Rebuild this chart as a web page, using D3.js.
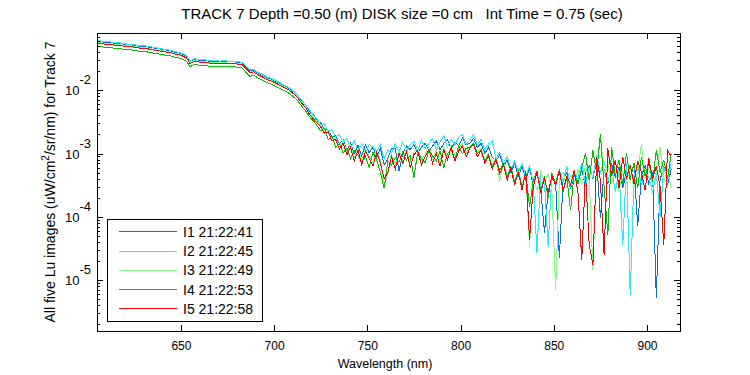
<!DOCTYPE html>
<html>
<head>
<meta charset="utf-8">
<script src="https://cdnjs.cloudflare.com/ajax/libs/d3/7.8.5/d3.min.js"></script>
<style>
  body { margin: 0; background: #fff; }
  text { font-family: "Liberation Sans", Arial, sans-serif; fill: #000; }
</style>
</head>
<body>
<div id="chart"></div>
<script>
// wavelength grid (nm)
const wavelengths = [
  605,607,609,611,613,615,617,619,621,623,625,627,629,631,633,635,637,639,641,643,
  645,647,649,651,653,655,657,659,661,663,665,667,669,671,673,675,677,679,681,683,
  685,687,689,691,693,695,697,699,701,703,705,707,709,711,713,715,717,719,721,723,
  725,727,729,731,733,735,737,739,741,743,745,747,749,751,753,755,757,759,761,763,
  765,767,769,771,773,775,777,779,781,783,785,787,789,791,793,795,797,799,801,803,
  805,807,809,811,813,815,817,819,821,823,825,827,829,831,833,835,837,839,841,843,
  845,847,849,851,853,855,857,859,861,863,865,867,869,871,873,875,877,879,881,883,
  885,887,889,891,893,895,897,899,901,903,905,907,909,911,913
];

// log10(Lu) per image
const i1 = [
  -1.22,-1.23,-1.24,-1.24,-1.25,-1.26,-1.26,-1.27,-1.28,-1.28,-1.29,-1.30,-1.31,-1.31,-1.32,-1.33,-1.34,-1.35,-1.36,-1.37,
  -1.38,-1.40,-1.41,-1.43,-1.46,-1.55,-1.51,-1.52,-1.53,-1.53,-1.54,-1.54,-1.54,-1.55,-1.54,-1.55,-1.55,-1.55,-1.56,-1.57,
  -1.63,-1.69,-1.68,-1.72,-1.75,-1.78,-1.81,-1.83,-1.86,-1.89,-1.92,-1.95,-1.99,-2.04,-2.10,-2.17,-2.25,-2.33,-2.38,-2.48,
  -2.52,-2.62,-2.63,-2.74,-2.72,-2.85,-2.78,-2.95,-2.84,-3.00,-2.87,-3.04,-2.86,-2.99,-2.90,-3.06,-2.92,-3.18,-3.08,-2.92,
  -2.92,-3.28,-3.00,-2.88,-2.94,-2.86,-3.00,-2.90,-2.84,-2.96,-2.88,-2.80,-2.94,-2.84,-2.78,-2.92,-2.82,-2.88,-2.76,-2.86,
  -2.84,-2.76,-2.90,-2.84,-3.00,-2.90,-3.06,-3.12,-3.02,-3.20,-3.10,-3.30,-3.16,-3.36,-3.20,-3.42,-3.24,-3.50,-3.30,-3.56,
  -4.25,-3.60,-3.38,-3.48,-4.65,-3.42,-3.30,-3.56,-3.34,-3.46,-3.25,-3.52,-3.18,-3.40,-3.10,-4.02,-3.25,-3.48,-3.15,-3.38,
  -3.22,-3.55,-3.28,-3.40,-3.18,-4.15,-3.35,-3.20,-3.48,-3.30,-5.29,-3.42,-3.20,-3.50,-3.25
];
const i2 = [
  -1.21,-1.22,-1.23,-1.23,-1.24,-1.25,-1.25,-1.26,-1.27,-1.27,-1.28,-1.29,-1.30,-1.30,-1.31,-1.32,-1.33,-1.34,-1.35,-1.36,
  -1.37,-1.39,-1.40,-1.42,-1.45,-1.54,-1.50,-1.51,-1.52,-1.52,-1.53,-1.53,-1.53,-1.54,-1.53,-1.54,-1.54,-1.54,-1.55,-1.56,
  -1.62,-1.68,-1.67,-1.71,-1.74,-1.77,-1.80,-1.82,-1.85,-1.88,-1.91,-1.94,-1.98,-2.03,-2.09,-2.16,-2.24,-2.31,-2.40,-2.45,
  -2.55,-2.52,-2.66,-2.62,-2.74,-2.70,-2.82,-2.76,-2.92,-2.80,-2.95,-2.84,-2.98,-2.86,-2.90,-2.97,-2.86,-3.08,-2.94,-3.00,
  -2.84,-2.98,-2.82,-2.95,-2.86,-2.80,-2.96,-2.78,-2.92,-2.84,-2.76,-2.95,-2.82,-2.72,-2.90,-2.78,-2.86,-2.74,-2.70,-2.86,
  -2.78,-2.70,-2.86,-2.78,-2.95,-2.85,-2.80,-3.08,-2.98,-3.15,-3.05,-3.25,-3.12,-3.30,-3.16,-3.36,-3.20,-3.45,-4.57,-3.28,
  -3.45,-4.47,-3.30,-3.52,-3.26,-3.44,-3.20,-3.55,-3.30,-3.40,-3.15,-3.50,-3.22,-3.38,-3.02,-3.30,-3.12,-3.45,-3.20,-3.60,
  -3.28,-4.45,-3.15,-5.25,-3.35,-3.20,-3.50,-3.25,-3.38,-3.62,-3.30,-4.00,-3.22,-3.45,-3.15
];
const i3 = [
  -1.24,-1.25,-1.26,-1.26,-1.27,-1.28,-1.28,-1.29,-1.30,-1.30,-1.31,-1.32,-1.33,-1.33,-1.34,-1.35,-1.36,-1.37,-1.38,-1.39,
  -1.40,-1.42,-1.43,-1.45,-1.48,-1.57,-1.53,-1.54,-1.55,-1.55,-1.56,-1.56,-1.56,-1.57,-1.56,-1.57,-1.57,-1.57,-1.58,-1.59,
  -1.65,-1.71,-1.70,-1.74,-1.77,-1.80,-1.83,-1.85,-1.88,-1.91,-1.94,-1.97,-2.01,-2.06,-2.12,-2.19,-2.27,-2.36,-2.42,-2.50,
  -2.55,-2.65,-2.64,-2.77,-2.75,-2.90,-2.80,-2.98,-2.87,-3.06,-2.91,-3.12,-2.92,-3.04,-3.15,-2.95,-3.10,-3.52,-3.32,-3.00,
  -3.18,-2.96,-3.10,-2.92,-3.14,-2.98,-2.90,-3.10,-3.00,-2.89,-3.08,-2.96,-3.14,-2.90,-3.06,-2.86,-3.04,-2.92,-2.84,-3.00,
  -2.88,-2.82,-2.98,-2.92,-3.10,-3.00,-3.18,-3.06,-3.45,-3.14,-3.34,-3.20,-3.44,-3.26,-3.50,-3.30,-4.47,-3.40,-3.58,-3.28,
  -3.46,-3.32,-3.58,-5.16,-3.40,-3.30,-3.55,-3.34,-3.46,-3.25,-3.50,-3.20,-3.38,-4.84,-3.15,-2.72,-3.30,-3.15,-3.48,-3.22,
  -3.60,-3.30,-3.45,-3.20,-3.55,-3.28,-2.85,-3.40,-3.22,-3.50,-3.30,-2.90,-3.45,-3.25,-3.55
];
const i4 = [
  -1.30,-1.31,-1.32,-1.32,-1.33,-1.34,-1.34,-1.35,-1.36,-1.36,-1.37,-1.38,-1.39,-1.39,-1.40,-1.41,-1.42,-1.43,-1.44,-1.45,
  -1.46,-1.48,-1.49,-1.51,-1.54,-1.63,-1.59,-1.60,-1.61,-1.61,-1.62,-1.62,-1.62,-1.63,-1.62,-1.63,-1.63,-1.63,-1.64,-1.65,
  -1.72,-1.78,-1.76,-1.80,-1.83,-1.86,-1.89,-1.91,-1.94,-1.97,-2.00,-2.03,-2.07,-2.12,-2.18,-2.26,-2.33,-2.42,-2.48,-2.56,
  -2.64,-2.60,-2.78,-2.72,-2.90,-2.84,-2.99,-2.92,-3.08,-2.96,-3.02,-3.14,-3.04,-3.22,-2.98,-3.10,-3.30,-3.55,-3.12,-3.18,
  -3.06,-3.14,-2.98,-3.10,-3.04,-3.38,-2.98,-3.08,-3.15,-2.95,-3.04,-3.12,-2.96,-3.22,-3.00,-2.94,-3.10,-2.88,-3.00,-2.92,
  -2.90,-2.84,-3.00,-2.94,-3.12,-3.02,-3.22,-3.08,-3.26,-3.16,-3.38,-3.20,-3.46,-3.27,-3.55,-3.30,-3.85,-3.42,-3.28,-3.60,
  -3.36,-3.70,-3.32,-3.46,-3.25,-3.60,-3.38,-3.90,-3.30,-3.48,-3.22,-3.00,-3.42,-2.95,-3.30,-2.70,-3.52,-4.29,-2.90,-3.35,
  -3.10,-3.48,-3.00,-3.40,-3.15,-3.55,-3.05,-3.36,-3.12,-3.45,-2.95,-3.30,-3.10,-3.40,-3.00
];
const i5 = [
  -1.25,-1.26,-1.27,-1.27,-1.28,-1.29,-1.29,-1.30,-1.31,-1.31,-1.32,-1.33,-1.34,-1.34,-1.35,-1.36,-1.37,-1.38,-1.39,-1.40,
  -1.41,-1.43,-1.44,-1.46,-1.49,-1.58,-1.54,-1.55,-1.56,-1.56,-1.57,-1.57,-1.57,-1.58,-1.57,-1.58,-1.58,-1.58,-1.59,-1.60,
  -1.66,-1.72,-1.71,-1.75,-1.78,-1.81,-1.84,-1.86,-1.89,-1.92,-1.95,-1.98,-2.02,-2.07,-2.13,-2.21,-2.28,-2.38,-2.45,-2.52,
  -2.58,-2.68,-2.66,-2.80,-2.78,-2.93,-2.84,-3.02,-2.90,-3.12,-2.95,-3.18,-2.96,-3.08,-3.20,-2.98,-3.15,-3.40,-3.30,-3.05,
  -3.25,-3.00,-3.16,-2.97,-3.22,-3.02,-2.95,-3.18,-3.05,-2.93,-3.15,-3.00,-3.20,-2.94,-3.10,-2.90,-3.12,-2.96,-2.88,-3.05,
  -2.92,-2.86,-3.05,-2.95,-3.15,-3.04,-3.25,-3.10,-3.32,-3.18,-3.42,-3.22,-3.50,-3.30,-3.58,-3.28,-4.36,-3.52,-3.30,-3.62,
  -3.40,-3.62,-3.35,-3.50,-3.28,-3.58,-3.36,-3.49,-3.27,-3.62,-4.68,-3.30,-4.44,-4.76,-3.05,-3.42,-4.61,-2.92,-3.35,-3.10,
  -3.55,-3.05,-3.40,-3.18,-3.48,-3.12,-3.30,-3.58,-3.08,-3.40,-3.20,-3.52,-4.45,-2.95,-3.05
];

const seriesNames = ["I1 21:22:41", "I2 21:22:45", "I3 21:22:49", "I4 21:22:53", "I5 21:22:58"];
const seriesColors = ["#0a6ee6", "#22eeff", "#80ff80", "#00c000", "#ff0000"];
const xTicks = [650, 700, 750, 800, 850, 900];
const yExponents = [-2, -3, -4, -5];

const series = [i1, i2, i3, i4, i5].map((vals, k) => {
  if (vals.length !== wavelengths.length) throw new Error("length mismatch " + k + " " + vals.length);
  return { name: seriesNames[k], color: seriesColors[k],
    values: vals.map((v, i) => ({ wl: wavelengths[i], lu: Math.pow(10, v) })) };
});

const fullWidth = 750, fullHeight = 375;
const margin = { top: 33, right: 70, bottom: 44, left: 97 };
const width = fullWidth - margin.left - margin.right;
const height = fullHeight - margin.top - margin.bottom;

const svg = d3.select("#chart").append("svg")
  .attr("width", fullWidth)
  .attr("height", fullHeight);

const chart = svg.append("g")
  .attr("transform", `translate(${margin.left},${margin.top})`);

const x = d3.scaleLinear().domain([605, 917.7]).range([0, width]);
const y = d3.scaleLog().domain([Math.pow(10, -5.806), Math.pow(10, -1.095)]).range([height, 0]);

// === Lines ===
svg.append("clipPath").attr("id", "clip")
  .append("rect").attr("width", width).attr("height", height);

const line = d3.line().x(d => x(d.wl)).y(d => y(d.lu));
chart.append("g").attr("clip-path", "url(#clip)")
  .selectAll("path")
  .data(series)
  .enter()
  .append("path")
  .attr("d", d => line(d.values))
  .attr("fill", "none")
  .attr("stroke", d => d.color)
  .attr("stroke-width", 1)
  .style("shape-rendering", "crispEdges");

// === Axes (MATLAB style: ticks inside, on all four sides) ===
const minorTicks = [];
for (let e = -6; e <= -1; e++) {
  for (let m = 2; m <= 9; m++) {
    const v = m * Math.pow(10, e);
    if (v > y.domain()[0] && v < y.domain()[1]) minorTicks.push(v);
  }
}
const majorY = yExponents.map(e => Math.pow(10, e));

function styleAxis(g) {
  g.select(".domain").remove();
  g.selectAll("line").attr("stroke", "#000").style("shape-rendering", "crispEdges");
}

chart.append("g")
  .attr("transform", `translate(0,${height})`)
  .call(d3.axisBottom(x).tickValues(xTicks).tickSize(-6).tickPadding(10).tickFormat(d3.format("d")))
  .call(styleAxis)
  .selectAll("text")
  .style("font-size", "12px")
  .style("font-family", "Liberation Sans, Arial, sans-serif");

chart.append("g")
  .call(d3.axisTop(x).tickValues(xTicks).tickSize(-6).tickFormat(""))
  .call(styleAxis);

chart.append("g")
  .call(d3.axisLeft(y).tickValues(majorY).tickSize(-6).tickFormat(""))
  .call(styleAxis);
chart.append("g")
  .call(d3.axisLeft(y).tickValues(minorTicks).tickSize(-3).tickFormat(""))
  .call(styleAxis);
chart.append("g")
  .attr("transform", `translate(${width},0)`)
  .call(d3.axisRight(y).tickValues(majorY).tickSize(-6).tickFormat(""))
  .call(styleAxis);
chart.append("g")
  .attr("transform", `translate(${width},0)`)
  .call(d3.axisRight(y).tickValues(minorTicks).tickSize(-3).tickFormat(""))
  .call(styleAxis);

// y tick labels as 10^n
const yLab = chart.append("g").selectAll("text")
  .data(yExponents)
  .enter()
  .append("text")
  .attr("x", -6)
  .attr("y", d => y(Math.pow(10, d)) + 5)
  .attr("text-anchor", "end")
  .style("font-size", "13px");
yLab.append("tspan").text("10");
yLab.append("tspan").attr("dy", -11).text(d => "-" + Math.abs(d));

// frame
chart.append("rect")
  .attr("x", 0).attr("y", 0)
  .attr("width", width).attr("height", height)
  .attr("fill", "none")
  .attr("stroke", "#000")
  .style("shape-rendering", "crispEdges");

// === Legend ===
const legend = chart.append("g").attr("transform", "translate(10,186)");
legend.append("rect")
  .attr("width", 155).attr("height", 102)
  .attr("fill", "#fff").attr("stroke", "#000")
  .style("shape-rendering", "crispEdges");
series.forEach((s, i) => {
  const ly = 12.7 + i * 19.3;
  legend.append("line")
    .attr("x1", 12).attr("x2", 70)
    .attr("y1", ly).attr("y2", ly)
    .attr("stroke", s.color)
    .style("shape-rendering", "crispEdges");
  legend.append("text")
    .attr("x", 76).attr("y", ly + 5)
    .style("font-size", "14px")
    .text(s.name);
});

// === Title and axis labels ===
svg.append("text")
  .attr("x", 402)
  .attr("y", 19)
  .attr("text-anchor", "middle")
  .style("font-size", "15px")
  .style("white-space", "pre")
  .text("TRACK 7 Depth =0.50 (m) DISK size =0 cm   Int Time = 0.75 (sec)");

svg.append("text")
  .attr("x", 385)
  .attr("y", 368)
  .attr("text-anchor", "middle")
  .style("font-size", "12.5px")
  .text("Wavelength (nm)");

const yTitle = svg.append("text")
  .attr("transform", `translate(55,${margin.top + height / 2}) rotate(-90)`)
  .attr("text-anchor", "middle")
  .style("font-size", "14px");
yTitle.append("tspan").text("All five Lu images (uW/cm");
yTitle.append("tspan").attr("dy", -6).style("font-size", "10px").text("2");
yTitle.append("tspan").attr("dy", 6).text("/sr/nm) for Track 7");
</script>
</body>
</html>
